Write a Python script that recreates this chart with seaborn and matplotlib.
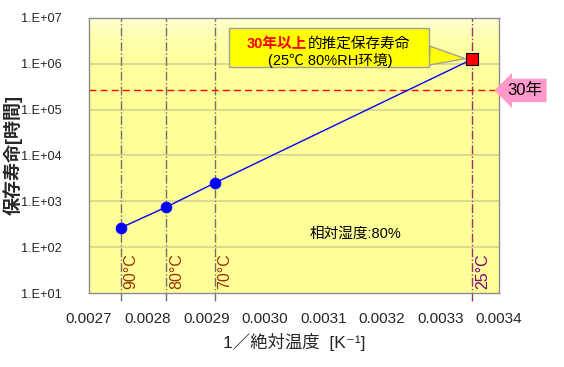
import numpy as np
import pandas as pd
import matplotlib
matplotlib.use('Agg')
import matplotlib.pyplot as plt
from matplotlib.colors import LinearSegmentedColormap
from matplotlib.ticker import FuncFormatter, FixedLocator
import seaborn as sns

# data
temps_c = [90, 80, 70, 25]
temp_labels = ['90°C', '80°C', '70°C', '25°C']
life_hours = [263, 750, 2500, 1.26e6]
target_hours = 30 * 365 * 24  # 30年
x_ticks = [0.0027, 0.0028, 0.0029, 0.0030, 0.0031, 0.0032, 0.0033, 0.0034]
y_ticks = [1e1, 1e2, 1e3, 1e4, 1e5, 1e6, 1e7]

df = pd.DataFrame({'temp': temps_c, 'life': life_hours})
df['inv_t'] = 1.0 / (df['temp'] + 273.15)

sns.set_theme(style='white')
plt.rcParams['font.family'] = ['Liberation Sans', 'Noto Sans CJK JP', 'DejaVu Sans']

fig = plt.figure(figsize=(5.64, 3.67), dpi=100)
ax = fig.add_axes([0.158, 0.2016, 0.727, 0.7494])
ax.set_yscale('log')

# gradient background
cmap = LinearSegmentedColormap.from_list('bg', ['#FFFF99', '#FFFFD8'])
ax.imshow(np.linspace(0, 1, 256).reshape(-1, 1), cmap=cmap, aspect='auto',
          extent=[0.0027, 0.0034, 1e1, 1e7], origin='lower', zorder=0)
ax.set_xlim(0.0027, 0.0034)
ax.set_ylim(1e1, 1e7)

for y in y_ticks[1:-1]:
    ax.axhline(y, color='#D6D290', lw=1.2, zorder=1)

# temperature lines
for i, row in df.iterrows():
    lc = '#993366' if row['temp'] == 25 else '#707070'
    tc = '#800080' if row['temp'] == 25 else '#993300'
    ax.axvline(row['inv_t'], ymin=-0.03, color=lc, lw=1, ls='-.', zorder=2, clip_on=False)
    ax.text(row['inv_t'] + 0.000005, 12.5, temp_labels[i], rotation=90, color=tc,
            fontsize=11.5, ha='left', va='bottom', zorder=3)

ax.axhline(target_hours, color='red', lw=1, ls=(0, (5, 3)), zorder=2)

sns.lineplot(data=df, x='inv_t', y='life', color='blue', lw=1, ax=ax, zorder=4)
sns.scatterplot(data=df[df['temp'] != 25], x='inv_t', y='life', color='blue', s=60,
                edgecolor='blue', ax=ax, zorder=5)
sns.scatterplot(data=df[df['temp'] == 25], x='inv_t', y='life', color='red', marker='s',
                s=70, edgecolor='black', linewidth=0.8, ax=ax, zorder=6)

# callout box (blank placeholder text sizes the box), lines drawn on top
p25 = df[df['temp'] == 25].iloc[0]
ax.annotate('\u3000' * 13 + '\n\u3000', xy=(p25['inv_t'], p25['life']),
            xytext=(0.5845, 0.893), textcoords='axes fraction',
            fontsize=10.5, ha='center', va='center', linespacing=1.05,
            bbox=dict(boxstyle='square,pad=0.35', fc='#FFFF00', ec='#A0A0A0', lw=1),
            arrowprops=dict(arrowstyle='wedge,tail_width=1.3,shrink_factor=0.5',
                            fc='#FFFF00', ec='#A0A0A0', lw=1, shrinkA=0, shrinkB=5),
            zorder=7)
ax.text(0.531, 0.905, '30年以上', transform=ax.transAxes, ha='right', va='center',
        color='red', fontsize=10.5, fontweight='bold', zorder=8)
ax.text(0.533, 0.905, '的推定保存寿命', transform=ax.transAxes, ha='left', va='center',
        color='black', fontsize=10.5, zorder=8)
ax.text(0.588, 0.845, '(25℃ 80%RH环境)', transform=ax.transAxes, ha='center',
        va='center', color='black', fontsize=10.5, zorder=8)

ax.text(0.538, 0.215, '相対湿度:80%', transform=ax.transAxes, fontsize=10.5,
        ha='left', va='center', color='black')

ax.annotate('30年', xy=(1.02, target_hours), xycoords=('axes fraction', 'data'),
            ha='left', va='center', fontsize=12, color='black', annotation_clip=False,
            bbox=dict(boxstyle='larrow,pad=0.25', fc='#FF99CC', ec='none'))

ax.xaxis.set_major_locator(FixedLocator(x_ticks))
ax.yaxis.set_major_locator(FixedLocator(y_ticks))
ax.yaxis.set_minor_locator(FixedLocator([]))
ax.xaxis.set_major_formatter(FuncFormatter(lambda v, p: f'{v:.4f}'))
ax.yaxis.set_major_formatter(FuncFormatter(lambda v, p: f'1.E+{int(round(np.log10(v))):02d}'))
ax.tick_params(axis='x', direction='in', length=4, color='#808080', labelsize=11, pad=14)
ax.tick_params(axis='y', length=0, labelsize=9.2, pad=20)

for sp in ax.spines.values():
    sp.set_color('#8C8C8C')
    sp.set_linewidth(1)

ax.set_xlabel('1／絶対温度  [K⁻¹]', fontsize=12.5, labelpad=5)
ax.set_ylabel('保存寿命[時間]', fontsize=13, fontweight='bold')
ax.yaxis.set_label_coords(-0.162, 0.5)

fig.savefig('out.png', dpi=100)
